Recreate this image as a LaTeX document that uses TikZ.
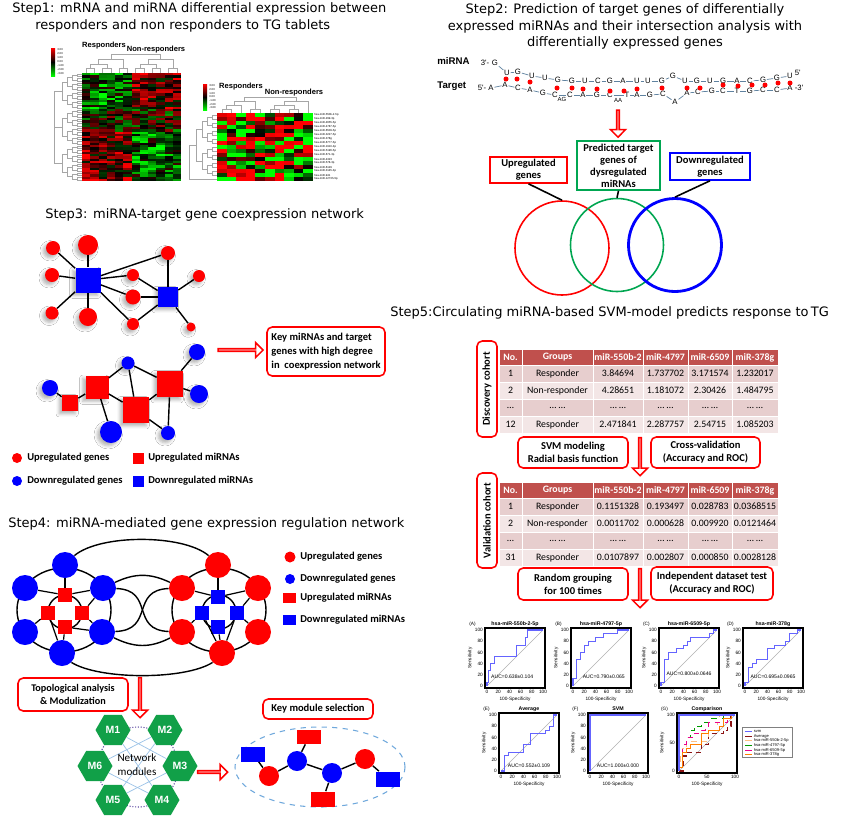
\documentclass[tikz,border=0pt]{standalone}
\usepackage{fontspec}
\setmainfont{Carlito}
\newfontfamily\comicfont{DejaVu Sans}
\newfontfamily\arialfont{Liberation Sans}
\usetikzlibrary{positioning, shapes.geometric, shapes.arrows, shadows.blur}

\definecolor{upred}{RGB}{255,0,0}
\definecolor{downblue}{RGB}{0,0,255}
\definecolor{venngreen}{RGB}{0,166,81}
\definecolor{hexgreen}{RGB}{17,160,72}
\definecolor{headred}{RGB}{192,80,77}
\definecolor{rowdark}{RGB}{231,206,206}
\definecolor{rowlight}{RGB}{243,230,230}
\definecolor{rocblue}{RGB}{100,100,255}
\definecolor{avgred}{RGB}{140,20,20}
\definecolor{seqline}{RGB}{95,130,160}
\definecolor{modblue}{RGB}{111,168,220}
\definecolor{dotpurple}{RGB}{90,70,160}

\newcommand{\px}{0.02cm}
% bracket of a column dendrogram
\newcommand{\brk}[5]{\draw[dendro] (#1,#2) -- (#1,#5) -- (#3,#5) -- (#3,#4);}
% row dendrogram left of a heat map: right x, top y, row height, rows, levels, step
\newcommand{\ldendro}[6]{%
  \foreach \k in {1,...,#5}{%
    \pgfmathtruncatemacro{\g}{2^\k}%
    \pgfmathtruncatemacro{\n}{#4/\g-1}%
    \foreach \j in {0,...,\n}{%
      \pgfmathsetmacro{\ya}{#2+(\j*\g+\g/4)*#3}%
      \pgfmathsetmacro{\yb}{#2+(\j*\g+3*\g/4)*#3}%
      \pgfmathsetmacro{\xp}{#1-#6*\k}%
      \draw[dendro] (\xp+#6,\ya) -- (\xp,\ya) -- (\xp,\yb) -- (\xp+#6,\yb);}}}
% frame, axes and labels of one ROC panel
\newcommand{\rocaxes}[3]{%
  \draw[gray!60, line width=0.3pt] (0,0) -- (100,100);
  \draw[line width=0.9pt] (-4,-4) rectangle (104,104);
  \foreach \t in {#3}{%
    \node[rtick, below] (xt\t) at (\t,-5) {\t};
    \node[rtick, left] (yt\t) at (-5,\t) {\t};}
  \node[rtick, rotate=90] (ylab) at (-30,50) {Sensitivity};
  \node[rtick] (xlab) at (50,-24) {100-Specificity};
  \node[rtitle] (ptitle) at (50,111) {#2};
  \node[rtick] (ptag) at (-26,111) {#1};}
% SVM cohort table: top y, rows
\newcommand{\cohort}[2]{%
  \foreach \t [count=\i] in {No.,Groups,miR-550b-2,miR-4797,miR-6509,miR-378g}{%
    \pgfmathsetmacro{\xa}{{499,522,593,643,688,732}[\i-1]}%
    \pgfmathsetmacro{\xb}{{522,593,643,688,732,778}[\i-1]}%
    \fill[headred, draw=white, line width=0.4pt] (\xa,#1) rectangle (\xb,#1+16);
    \node[thd] (h\i) at ({(\xa+\xb)/2},#1+8.5) {\t};}
  \foreach \rw [count=\j] in {#2}{%
    \ifodd\j \def\rc{rowdark}\else\def\rc{rowlight}\fi
    \foreach \t [count=\i] in \rw {%
      \pgfmathsetmacro{\xa}{{499,522,593,643,688,732}[\i-1]}%
      \pgfmathsetmacro{\xb}{{522,593,643,688,732,778}[\i-1]}%
      \fill[\rc, draw=white, line width=0.5pt] (\xa,#1+16+\j*17-17) rectangle (\xb,#1+16+\j*17);
      \node[tcell] (c\j\i) at ({(\xa+\xb)/2},#1+7.5+\j*17) {\t};}}}

% ROC curves, data in percent
\def\curveA{(0,0) |- (2,7) |- (7,27) |- (13,40) |- (52,53) |- (68,73) |- (73,87) |- (100,100)}
\def\curveB{(0,0) |- (7,13) |- (13,47) |- (20,60) |- (27,73) |- (40,80) |- (55,87) |- (80,93) |- (100,100)}
\def\curveC{(0,0) |- (7,7) |- (13,47) |- (27,60) |- (40,67) |- (47,73) |- (53,80) |- (87,87) |- (93,93) |- (100,100)}
\def\curveD{(0,0) |- (7,7) |- (13,33) |- (20,40) |- (40,47) |- (53,67) |- (73,73) |- (80,80) |- (93,93) |- (100,100)}
\def\curveE{(0,0) -- (7,0) |- (13,27) |- (40,33) |- (53,47) |- (80,67) |- (87,73) |- (93,80) |- (100,100)}

\begin{document}
\begin{tikzpicture}[x=0.02cm, y=-0.02cm,
  steptitle/.style={font=\comicfont\fontsize{7.4}{9}\selectfont, inner sep=0pt},
  ug/.style={circle, fill=upred, inner sep=0pt, minimum size=#1*\px}, ug/.default=12,
  dg/.style={circle, fill=downblue, inner sep=0pt, minimum size=#1*\px}, dg/.default=12,
  um/.style={rectangle, fill=upred, inner sep=0pt, minimum size=#1*\px}, um/.default=12,
  dm/.style={rectangle, fill=downblue, inner sep=0pt, minimum size=#1*\px}, dm/.default=12,
  shd/.style={blur shadow={shadow xshift=-1.6pt, shadow yshift=-1.6pt, shadow blur radius=1.8pt, shadow opacity=30}},
  nlink/.style={line width=0.8pt},
  redbox/.style={draw=red, line width=0.9pt, rounded corners=3pt, fill=white, align=center, inner sep=0pt, font=\bfseries\fontsize{6}{7.4}\selectfont},
  vennbox/.style={draw=#1, line width=0.9pt, fill=white, align=center, inner sep=0pt, font=\bfseries\fontsize{6}{6.8}\selectfont},
  hollow/.style={single arrow, draw=red, fill=white, line width=0.9pt, inner sep=0pt, minimum width=15*\px, single arrow head extend=4*\px, minimum height=#1*\px},
  pointdown/.style={shape border rotate=270},
  legtext/.style={anchor=west, inner sep=0pt, font=\bfseries\fontsize{6}{7}\selectfont},
  hexm/.style={regular polygon, regular polygon sides=6, fill=hexgreen, inner sep=0pt, minimum size=35*\px, text=white, font=\arialfont\bfseries\fontsize{6}{7}\selectfont},
  dendro/.style={gray!70, line width=0.25pt},
  hmlabel/.style={font=\arialfont\bfseries\fontsize{4.3}{5}\selectfont, inner sep=0pt},
  tiny/.style={font=\arialfont\fontsize{1.6}{1.8}\selectfont, inner sep=0pt, anchor=west},
  nt/.style={font=\arialfont\fontsize{4.4}{5}\selectfont, inner sep=0.3pt, fill=white},
  thd/.style={font=\bfseries\fontsize{5.6}{6}\selectfont, text=white, inner sep=0pt},
  tcell/.style={font=\fontsize{5.6}{6}\selectfont, inner sep=0pt},
  rtick/.style={font=\arialfont\fontsize{2.7}{3}\selectfont, inner sep=0.6pt},
  rtitle/.style={font=\arialfont\bfseries\fontsize{3}{3.5}\selectfont, inner sep=0pt},
  auc/.style={font=\arialfont\fontsize{2.9}{3}\selectfont, inner sep=0pt},
  roccurve/.style={rocblue, line width=0.6pt},
  rocat/.style 2 args={shift={(#1,#2)}, x=0.0112cm, y=0.0112cm}]

\useasboundingbox (0,0) rectangle (856,816);
\fill[white] (0,0) rectangle (856,816);

%%%% Step1: heat maps
\node[steptitle, anchor=west] (t1a) at (12,9) {Step1: mRNA and miRNA differential expression between};
\node[steptitle, anchor=west] (t1b) at (35,26) {responders and non responders to TG tablets};

\pgfmathsetseed{21}
\foreach \row in {0,...,47}{
  \foreach \col in {0,...,11}{
    \pgfmathsetmacro{\bv}{\row<16 ? (\col<6 ? -0.3 : 0.3) : (\row<26 ? 0 : (\col<6 ? 0.3 : -0.3))}
    \pgfmathsetmacro{\val}{\bv+0.5*rand}
    \pgfmathtruncatemacro{\pc}{min(100,abs(\val)*130)}
    \ifdim\val pt>0pt \def\hc{red}\else\def\hc{green}\fi
    \fill[\hc!\pc!black] (82+\col*8.25,73+\row*2.25) rectangle ++(8.25,2.25);}}
\ldendro{82}{73}{2.25}{48}{4}{5}
\draw[dendro] (62,91) -- (54,91) -- (54,163) -- (62,163) (62,127) -- (54,127);
\foreach \col in {0,2,...,10}{\brk{86.1+8.25*\col}{73}{94.35+8.25*\col}{73}{68}}
\brk{90.25}{68}{106.75}{68}{64}
\brk{139.75}{68}{156.25}{68}{64}
\brk{98.5}{64}{123.25}{68}{59}
\brk{148}{64}{172.75}{68}{59}
\brk{110.9}{59}{160.4}{59}{54}
\node[hmlabel] (resp1) at (104,46) {Responders};
\node[hmlabel] (nonresp1) at (156,50) {Non-responders};
\shade[top color=red, bottom color=green, middle color=black] (51,48) rectangle (55,76);
\foreach \t [count=\i] in {3.00,2.00,1.00,0.00,-1.00,-2.00,-3.00}{\node[tiny] (k1\i) at (57,46+4*\i) {\t};}

\foreach \row in {0,...,16}{
  \foreach \col in {0,...,9}{
    \pgfmathsetmacro{\val}{1.1*rand}
    \pgfmathtruncatemacro{\pc}{min(100,abs(\val)*150)}
    \ifdim\val pt>0pt \def\hc{red}\else\def\hc{green}\fi
    \fill[\hc!\pc!black] (217+\col*9.6,113+\row*4) rectangle ++(9.6,4);}}
\ldendro{217}{113}{4}{16}{3}{5}
\draw[dendro] (202,129) -- (196,129) -- (196,161) -- (202,161) (196,145) -- (189,145) -- (189,179) -- (217,179);
\foreach \col in {0,3,5,7}{\brk{221.8+9.6*\col}{113}{231.4+9.6*\col}{113}{109}}
\brk{226.6}{109}{241}{113}{105}
\brk{233.8}{105}{255.4}{109}{101}
\brk{274.6}{109}{293.8}{109}{105}
\brk{284.2}{105}{308.2}{113}{101}
\brk{244.6}{101}{296.2}{101}{97}
\node[hmlabel] (resp2) at (241,87) {Responders};
\node[hmlabel] (nonresp2) at (294,93) {Non-responders};
\shade[top color=red, bottom color=green, middle color=black] (203,84) rectangle (207,110);
\foreach \t [count=\i] in {3.00,2.00,1.00,0.00,-1.00,-2.00,-3.00}{\node[tiny] (k2\i) at (209,82+3.7*\i) {\t};}
\foreach \t [count=\i] in {hsa-miR-550b-2-5p,hsa-miR-299-3p,hsa-miR-4655-5p,hsa-miR-4787-5p,hsa-miR-6509-5p,hsa-miR-3227-5p,hsa-miR-378g,hsa-miR-6777-5p,hsa-miR-1910-3p,hsa-miR-5196-5p,hsa-miR-671-3p,hsa-miR-4323,hsa-miR-578-3p,hsa-miR-6129,hsa-miR-3145-3p,hsa-miR-941,hsa-miR-1273h-5p}{
  \node[tiny] (mi\i) at (314,111+4*\i) {\t};}

%%%% Step2: target prediction
\node[steptitle] (t2a) at (625,10) {Step2: Prediction of target genes of differentially};
\node[steptitle] (t2b) at (625,27) {expressed miRNAs and their intersection analysis with};
\node[steptitle] (t2c) at (625,43) {differentially expressed genes};

\node[font=\arialfont\bfseries\fontsize{5.5}{6}\selectfont, anchor=west, inner sep=0pt] (mirna) at (437,61) {miRNA};
\node[font=\arialfont\bfseries\fontsize{5.5}{6}\selectfont, anchor=west, inner sep=0pt] (target) at (437,86) {Target};
\foreach \x/\y/\l [count=\i] in {495/63/G, 507/73/U, 518/72/G, 532/76/U, 545/78/U, 558/80/G, 572/81/G, 585/81/U, 598/81/C, 610/81/G, 623/81/A, 637/81/U, 648/81/U, 662/81/G, 673/76/G, 685/81/U, 697/81/G, 710/81/U, 723/81/G, 737/81/A, 750/81/C, 763/80/G, 777/78/G, 790/76/U}{
  \node[nt] (m\i) at (\x,\y) {\l};}
\foreach \i [remember=\i as \last (initially 1)] in {2,...,24}{\draw[seqline, line width=0.4pt] (m\last) -- (m\i);}
\foreach \x/\y/\l [count=\i] in {491/88/A, 505/85/A, 518/88/C, 530/90/A, 543/93/G, 555/95/C, 570/95/C, 583/95/A, 597/95/G, 610/95/C, 627/95/T, 637/95/A, 650/95/G, 663/94/C, 675/102/A, 687/93/A, 698/92/C, 712/91/G, 723/91/C, 737/91/T, 750/91/G, 763/90/C, 777/90/C, 790/88/A}{
  \node[nt] (g\i) at (\x,\y) {\l};}
\foreach \i [remember=\i as \last (initially 1)] in {2,...,24}{\draw[seqline, line width=0.4pt] (g\last) -- (g\i);}
\node[nt, anchor=east] (m3end) at (490,63) {3'-};
\node[nt, anchor=west] (m5end) at (794,73) {5'};
\node[nt, anchor=east] (g5end) at (487,88) {5'-};
\node[nt, anchor=west] (g3end) at (794,88) {-3'};
\node[nt, fill=none, font=\arialfont\fontsize{3.4}{4}\selectfont] (bulge1) at (562,99) {AG};
\node[nt, fill=none, font=\arialfont\fontsize{3.4}{4}\selectfont] (bulge2) at (618,100) {AA};
\foreach \x/\y [count=\i] in {506/79, 517/79, 530/82, 557/88, 572/88, 583/89, 597/89, 610/91, 624/91, 637/89, 662/88, 687/88, 700/88, 723/85, 738/86, 752/85, 765/85, 778/83, 790/83}{
  \node[ug=5] (p\i) at (\x,\y) {};}

\node[hollow=27, pointdown] (arr2) at (618,123) {};

\node[circle, draw=red, line width=0.9pt, minimum size=94*\px, inner sep=0pt] (vup) at (562,248) {};
\node[circle, draw=venngreen, line width=0.9pt, minimum size=93*\px, inner sep=0pt] (vpred) at (617,245) {};
\node[circle, draw=downblue, line width=1.6pt, minimum size=93*\px, inner sep=0pt] (vdown) at (675,245) {};
\node[vennbox=red, minimum width=77*\px, minimum height=26*\px] (upbox) at (528.5,170) {Upregulated\\genes};
\node[vennbox=venngreen, minimum width=83*\px, minimum height=49*\px] (predbox) at (618.5,165.5) {Predicted target\\genes of\\dysregulated\\miRNAs};
\node[vennbox=downblue, minimum width=80*\px, minimum height=27*\px] (downbox) at (710,166.5) {Downregulated\\genes};
\draw[line width=0.9pt] (upbox.south) -- (vup.north);
\draw[line width=0.9pt] (predbox.south) -- (vpred.north);
\draw[line width=0.9pt] (downbox.south) -- (vdown.north);

%%%% Step3: coexpression network
\node[steptitle, anchor=west] (t3) at (45,215) {Step3: miRNA-target gene coexpression network};
\node[dm=25, shd] (a0) at (88,280) {};
\node[ug=14, shd] (a1) at (53,248) {};
\node[ug=20, shd] (a2) at (88,245) {};
\node[ug=14, shd] (a3) at (52,275) {};
\node[ug=13, shd] (a4) at (52,313) {};
\node[ug=18, shd] (a5) at (88,317) {};
\node[ug=12, shd] (a6) at (133,275) {};
\node[ug=15, shd] (a7) at (133,297) {};
\node[ug=12, shd] (a8) at (133,324) {};
\node[ug=14, shd] (a9) at (168,253) {};
\node[ug=12, shd] (a10) at (199,276) {};
\node[ug=9, shd] (a11) at (191,327) {};
\node[dm=20, shd] (b0) at (168,297) {};
\foreach \i in {1,...,9}{\draw[nlink] (a0) -- (a\i);}
\foreach \i in {6,...,11}{\draw[nlink] (b0) -- (a\i);}

\node[dg=16, shd] (c1) at (50,388) {};
\node[dg=13, shd] (c2) at (128,363) {};
\node[dg=16, shd] (c3) at (197,352) {};
\node[dg=18, shd] (c4) at (199,394) {};
\node[dg=22, shd] (c5) at (111,432) {};
\node[dg=14, shd] (c6) at (168,433) {};
\node[um=16, shd] (s1) at (70,403) {};
\node[um=23, shd] (s2) at (97,387) {};
\node[um=26, shd] (s3) at (136,410) {};
\node[um=26, shd] (s4) at (170,384) {};
\foreach \a/\b in {c1/s1, s1/s2, s2/c2, s2/s3, s2/c5, c2/s3, c2/s4, s3/s4, s3/c6, s4/c6, s4/c3, s4/c4}{\draw[nlink] (\a) -- (\b);}

\node[ug=10] (lk1) at (17,458) {};
\node[legtext] (lt1) at (27,458) {Upregulated genes};
\node[um=11] (lk2) at (138,458) {};
\node[legtext] (lt2) at (148,458) {Upregulated miRNAs};
\node[dg=10] (lk3) at (17,481) {};
\node[legtext] (lt3) at (27,481) {Downregulated genes};
\node[dm=11] (lk4) at (138,481) {};
\node[legtext] (lt4) at (148,481) {Downregulated miRNAs};

\node[hollow=45] (arr3) at (240,350) {};
\node[redbox, align=left, minimum width=118*\px, minimum height=49*\px, font=\bfseries\fontsize{6}{7.8}\selectfont] (keybox) at (326,351.5) {Key miRNAs and target\\genes with high degree\\in\ \ coexpression network};

%%%% Step4: regulation network
\node[steptitle, anchor=west] (t4) at (8,524) {Step4: miRNA-mediated gene expression regulation network};
\draw[nlink] (64,610) ellipse (47 and 42);
\draw[nlink] (219,610) ellipse (47 and 42);
\draw[nlink] (65,612) circle (17);
\draw[nlink] (219,612) circle (17);
\foreach \n/\x/\y in {l1/65/565, l2/25/588, l3/103/588, l4/25/632, l5/102/632, l6/62/653}{\node[dg=26] (\n) at (\x,\y) {};}
\foreach \n/\x/\y in {la/65/595, lb/48/613, lc/82/613, ld/65/627}{\node[um=14] (\n) at (\x,\y) {};}
\foreach \n/\x/\y in {r1/218/565, r2/182/588, r3/258/588, r4/182/632, r5/258/632, r6/222/653}{\node[ug=26] (\n) at (\x,\y) {};}
\foreach \n/\x/\y in {ra/218/597, rb/202/613, rc/237/613, rd/218/627}{\node[dm=14] (\n) at (\x,\y) {};}
\foreach \a/\b in {l1/la, l2/la, l3/la, l3/lc, l5/lc, l5/ld, l6/lb, l6/ld, l4/lb, r1/ra, r2/ra, r3/ra, r3/rc, r5/rc, r4/rb, r6/rb, r6/rd, r6/rc}{\draw[nlink, line width=0.7pt] (\a) -- (\b);}
\draw[nlink] (l1.north east) .. controls (100,534) and (183,534) .. (r1.north west);
\draw[nlink] (l6.south east) .. controls (100,680) and (185,680) .. (r6.south west);
\draw[nlink] (l3) .. controls (135,573) and (150,573) .. (r2);
\draw[nlink] (l5) .. controls (135,648) and (150,648) .. (r4);
\draw[nlink] (l3) .. controls (155,590) and (130,630) .. (r4);
\draw[nlink] (l5) .. controls (155,630) and (130,590) .. (r2);

\node[ug=11] (lg1) at (290,557) {};
\node[legtext] (lgt1) at (300,557) {Upregulated genes};
\node[dg=10] (lg2) at (290,579) {};
\node[legtext] (lgt2) at (300,579) {Downregulated genes};
\node[um, minimum width=13*\px, minimum height=10*\px] (lg3) at (289,598) {};
\node[legtext] (lgt3) at (300,598) {Upregulated miRNAs};
\node[dm, minimum width=13*\px, minimum height=10*\px] (lg4) at (289,620) {};
\node[legtext] (lgt4) at (300,620) {Downregulated miRNAs};

\node[redbox, minimum width=110*\px, minimum height=33*\px, font=\bfseries\fontsize{5.8}{7.5}\selectfont] (topo) at (73,694.5) {Topological analysis\\\& Modulization};
\node[hollow=40, pointdown] (arr4) at (140,697) {};

\draw[dotpurple, densely dotted, line width=0.6pt] (138,767) circle (40);
\node[hexm] (m1) at (113,730) {M1};
\node[hexm] (m2) at (165,730) {M2};
\node[hexm] (m3) at (180,766) {M3};
\node[hexm] (m4) at (162,800) {M4};
\node[hexm] (m5) at (113,800) {M5};
\node[hexm] (m6) at (95,766) {M6};
\foreach \a/\b in {m1/m3, m2/m6, m6/m4, m5/m3, m1/m4, m2/m5}{\draw[modblue!70, line width=0.4pt] (\a) -- (\b);}
\node[align=center, inner sep=0pt, font=\fontsize{6.3}{8}\selectfont] (netmod) at (137,765) {Network\\modules};

\node[hollow=30] (arr5) at (212,772) {};
\node[redbox, minimum width=110*\px, minimum height=20*\px] (keymod) at (318,709) {Key module selection};
\draw[modblue, dashed, line width=0.6pt] (320,767) ellipse (85 and 40);
\node[dm, minimum width=24*\px, minimum height=15*\px] (k1) at (253,754) {};
\node[ug=20] (k2) at (269,776) {};
\node[dg=20] (k3) at (297,761) {};
\node[um, minimum width=24*\px, minimum height=14*\px] (k4) at (309,737) {};
\node[dg=20] (k5) at (332,773) {};
\node[um, minimum width=24*\px, minimum height=15*\px] (k6) at (323,799) {};
\node[ug=20] (k7) at (365,759) {};
\node[dm, minimum width=24*\px, minimum height=15*\px] (k8) at (388,779) {};
\foreach \a/\b in {k1/k2, k2/k3, k3/k4, k3/k5, k5/k6, k5/k7, k7/k8}{\draw[nlink] (\a) -- (\b);}

%%%% Step5: SVM model
\node[steptitle, anchor=west] (t5) at (390,313) {Step5:Circulating miRNA-based SVM-model predicts response to\,TG};

\cohort{349}{{1,Responder,3.84694,1.737702,3.171574,1.232017},{2,Non-responder,4.28651,1.181072,2.30426,1.484795},{\ldots,\ldots\ \ldots,\ldots\ \ldots,\ldots\ \ldots,\ldots\ \ldots,\ldots\ \ldots},{12,Responder,2.471841,2.287757,2.54715,1.085203}}
\node[redbox, rotate=90, minimum width=96*\px, minimum height=20*\px] (disc) at (487,389) {Discovery cohort};
\node[redbox, minimum width=110*\px, minimum height=31*\px] (svm) at (573,452.5) {SVM modeling\\Radial basis function};
\node[redbox, minimum width=109*\px, minimum height=31*\px] (cv) at (705.5,452.5) {Cross-validation\\(Accuracy and ROC)};
\node[hollow=38, pointdown] (arr6) at (640,456) {};

\cohort{482}{{1,Responder,0.1151328,0.193497,0.028783,0.0368515},{2,Non-responder,0.0011702,0.000628,0.009920,0.0121464},{\ldots,\ldots\ \ldots,\ldots\ \ldots,\ldots\ \ldots,\ldots\ \ldots,\ldots\ \ldots},{31,Responder,0.0107897,0.002807,0.000850,0.0028128}}
\node[redbox, rotate=90, minimum width=95*\px, minimum height=20*\px] (valid) at (487,520.5) {Validation cohort};
\node[redbox, minimum width=110*\px, minimum height=32*\px] (rand) at (573,584) {Random grouping\\for 100 times};
\node[redbox, minimum width=122*\px, minimum height=33*\px] (indep) at (712,583.5) {Independent dataset test\\(Accuracy and ROC)};
\node[hollow=39, pointdown] (arr7) at (640,587.5) {};

% ROC panels
\begin{scope}[rocat={487}{686}]
  \rocaxes{(A)}{hsa-miR-550b-2-5p}{0,20,...,100}
  \draw[roccurve] \curveA;
  \node[auc] (aucA) at (45,17) {AUC=0.638±0.104};
\end{scope}
\begin{scope}[rocat={573}{686}]
  \rocaxes{(B)}{hsa-miR-4797-5p}{0,20,...,100}
  \draw[roccurve] \curveB;
  \node[auc] (aucB) at (55,17) {AUC=0.790±0.065};
\end{scope}
\begin{scope}[rocat={661}{686}]
  \rocaxes{(C)}{hsa-miR-6509-5p}{0,20,...,100}
  \draw[roccurve] \curveC;
  \node[auc] (aucC) at (50,22) {AUC=0.800±0.0646};
\end{scope}
\begin{scope}[rocat={745}{686}]
  \rocaxes{(D)}{hsa-miR-378g}{0,20,...,100}
  \draw[roccurve] \curveD;
  \node[auc] (aucD) at (50,17) {AUC=0.695±0.0965};
\end{scope}
\begin{scope}[rocat={501}{771}]
  \rocaxes{(E)}{Average}{0,20,...,100}
  \draw[roccurve] \curveE;
  \node[auc] (aucE) at (50,10) {AUC=0.552±0.109};
\end{scope}
\begin{scope}[rocat={590}{771}]
  \rocaxes{(F)}{SVM}{0,20,...,100}
  \draw[roccurve] (0,0) |- (100,100);
  \node[auc] (aucF) at (50,10) {AUC=1.000±0.000};
\end{scope}
\begin{scope}[rocat={679}{771}]
  \rocaxes{(G)}{Comparison}{0,50,100}
  \draw[avgred, densely dashed, line width=0.7pt] \curveE;
  \draw[orange!50, dashed, line width=0.5pt] \curveA;
  \draw[green!60!black, dashed, line width=0.6pt] \curveB;
  \draw[magenta, dashed, line width=0.6pt] \curveC;
  \draw[orange, line width=0.6pt] \curveD;
  \draw[rocblue, line width=0.8pt] (0,0) |- (100,100);
\end{scope}
\draw[gray, line width=0.4pt] (742,727) rectangle (792,757);
\foreach \c/\l [count=\i] in {rocblue/svm, avgred/Average, orange!50/hsa-miR-550b-2-5p, green!60!black/hsa-miR-4797-5p, magenta/hsa-miR-6509-5p, orange/hsa-miR-378g}{
  \draw[\c, line width=0.5pt] (745,727+\i*4.6) -- (752,727+\i*4.6) node[right, font=\arialfont\fontsize{2.3}{2.5}\selectfont, inner sep=0.8pt, text=black] (gl\i) {\l};}
\end{tikzpicture}
\end{document}
